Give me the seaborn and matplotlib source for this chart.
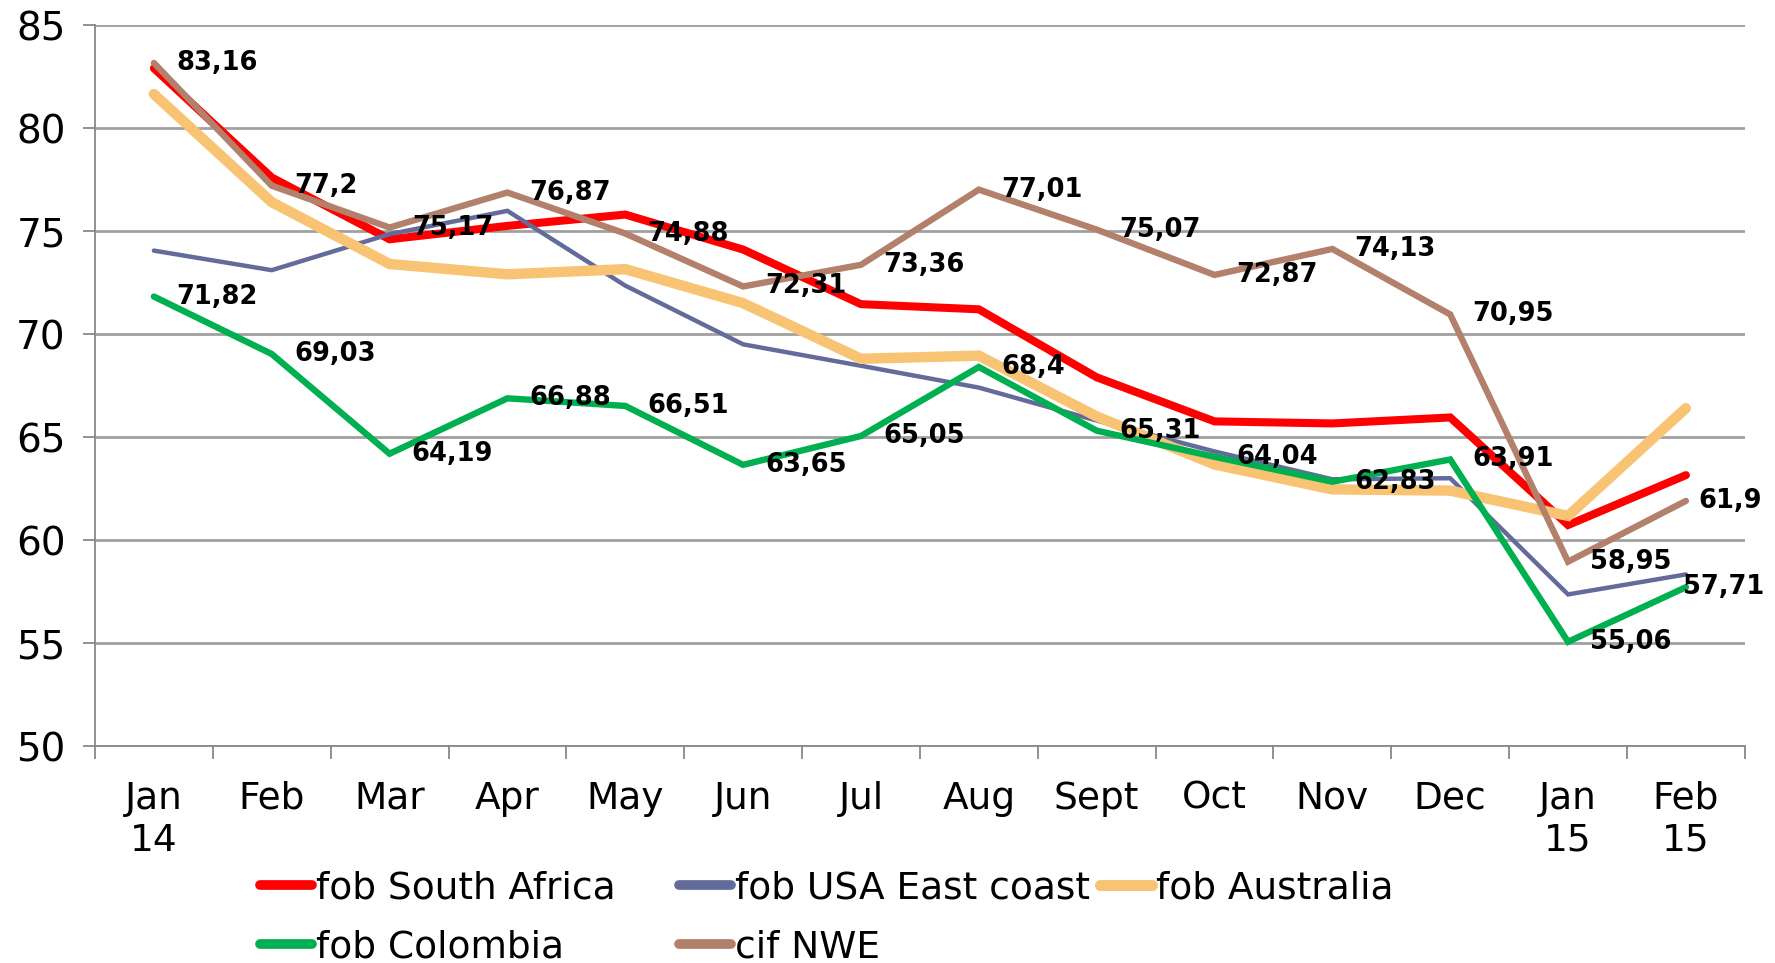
import matplotlib
matplotlib.use("Agg")
import matplotlib.pyplot as plt
import seaborn as sns
import pandas as pd
import numpy as np
from matplotlib.lines import Line2D

months = ["Jan\n14", "Feb", "Mar", "Apr", "May", "Jun", "Jul", "Aug", "Sept",
          "Oct", "Nov", "Dec", "Jan\n15", "Feb\n15"]

south_africa = [82.9, 77.6, 74.6, 75.25, 75.8, 74.1, 71.45, 71.2, 67.9, 65.76, 65.66, 65.95, 60.73, 63.15]
usa_east = [74.05, 73.1, 74.85, 75.98, 72.35, 69.5, 68.46, 67.4, 65.8, 64.3, 62.95, 63.0, 57.36, 58.33]
australia = [81.65, 76.4, 73.4, 72.9, 73.15, 71.5, 68.8, 68.95, 66.0, 63.67, 62.46, 62.4, 61.17, 66.4]
colombia = [71.82, 69.03, 64.19, 66.88, 66.51, 63.65, 65.05, 68.4, 65.31, 64.04, 62.83, 63.91, 55.06, 57.71]
cif_nwe = [83.16, 77.2, 75.17, 76.87, 74.88, 72.31, 73.36, 77.01, 75.07, 72.87, 74.13, 70.95, 58.95, 61.9]

colombia_labels = ["71,82", "69,03", "64,19", "66,88", "66,51", "63,65", "65,05", "68,4",
                   "65,31", "64,04", "62,83", "63,91", "55,06", "57,71"]
nwe_labels = ["83,16", "77,2", "75,17", "76,87", "74,88", "72,31", "73,36", "77,01",
              "75,07", "72,87", "74,13", "70,95", "58,95", "61,9"]

series_names = ["fob South Africa", "fob USA East coast", "fob Australia", "fob Colombia", "cif NWE"]
series_values = [south_africa, usa_east, australia, colombia, cif_nwe]
colors = ["#FF0000", "#636B9B", "#F9C374", "#00B050", "#B3806B"]
widths = [5.8, 3.2, 7.5, 4.6, 4.6]

sns.set_theme(style="white")
plt.rcParams['font.family'] = ['DejaVu Sans']
plt.rcParams['text.color'] = 'black'

fig = plt.figure(figsize=(17.75, 9.63), dpi=100)
ax = fig.add_axes([0.0535, 0.2253, 0.9295, 0.7487])

x = np.arange(len(months))
for name, vals, c, w in zip(series_names, series_values, colors, widths):
    df = pd.DataFrame({"x": x, "y": vals})
    sns.lineplot(data=df, x="x", y="y", ax=ax, color=c, linewidth=w,
                 solid_capstyle="round", solid_joinstyle="miter", legend=False)

n = len(months)
for i, (v, lab) in enumerate(zip(colombia, colombia_labels)):
    ax.annotate(lab, (i, v), xytext=(-2, 0) if i == n - 1 else (16, 0),
                textcoords="offset points", ha="left", va="center",
                fontsize=18.5, fontweight="bold", color="black")
for i, (v, lab) in enumerate(zip(cif_nwe, nwe_labels)):
    ax.annotate(lab, (i, v), xytext=(9, 0) if i == n - 1 else (16, 0),
                textcoords="offset points", ha="left", va="center",
                fontsize=18.5, fontweight="bold", color="black")

ax.set_xlim(-0.5, 13.5)
ax.set_ylim(50, 85)
ax.set_yticks(np.arange(50, 86, 5))
ax.yaxis.grid(True, color="#A0A0A0", linewidth=2)
ax.set_axisbelow(True)
ax.set_xlabel("")
ax.set_ylabel("")

ax.set_xticks(np.arange(-0.5, 14, 1))
ax.set_xticklabels([])
ax.set_xticks(x, minor=True)
ax.set_xticklabels(months, minor=True, fontsize=27, linespacing=1.22, color="black")
ax.tick_params(axis="x", which="major", length=9, width=1.3, color="#888888", direction="out", bottom=True)
ax.tick_params(axis="x", which="minor", length=0, pad=25)
ax.tick_params(axis="y", length=9, width=1.3, color="#888888", direction="out", left=True,
               labelsize=28, pad=12, labelcolor="black")

for s in ["top", "right"]:
    ax.spines[s].set_visible(False)
for s in ["left", "bottom"]:
    ax.spines[s].set_color("#888888")
    ax.spines[s].set_linewidth(1.3)

def handle(i):
    return Line2D([], [], color=colors[i], linewidth=7 if i != 2 else 8, solid_capstyle="round")

col_specs = [([0, 3], 267), ([1, 4], 686), ([2], 1107)]
for idxs, xpix in col_specs:
    leg = fig.legend([handle(i) for i in idxs], [series_names[i] for i in idxs],
                     loc="upper left", bbox_to_anchor=(xpix / 1775 - 0.004, 1 - 870 / 963),
                     frameon=False, fontsize=27, handlelength=1.4, handletextpad=0.1,
                     labelspacing=0.62, borderpad=0, borderaxespad=0, labelcolor="black")

fig.savefig("out.png", dpi=100)
